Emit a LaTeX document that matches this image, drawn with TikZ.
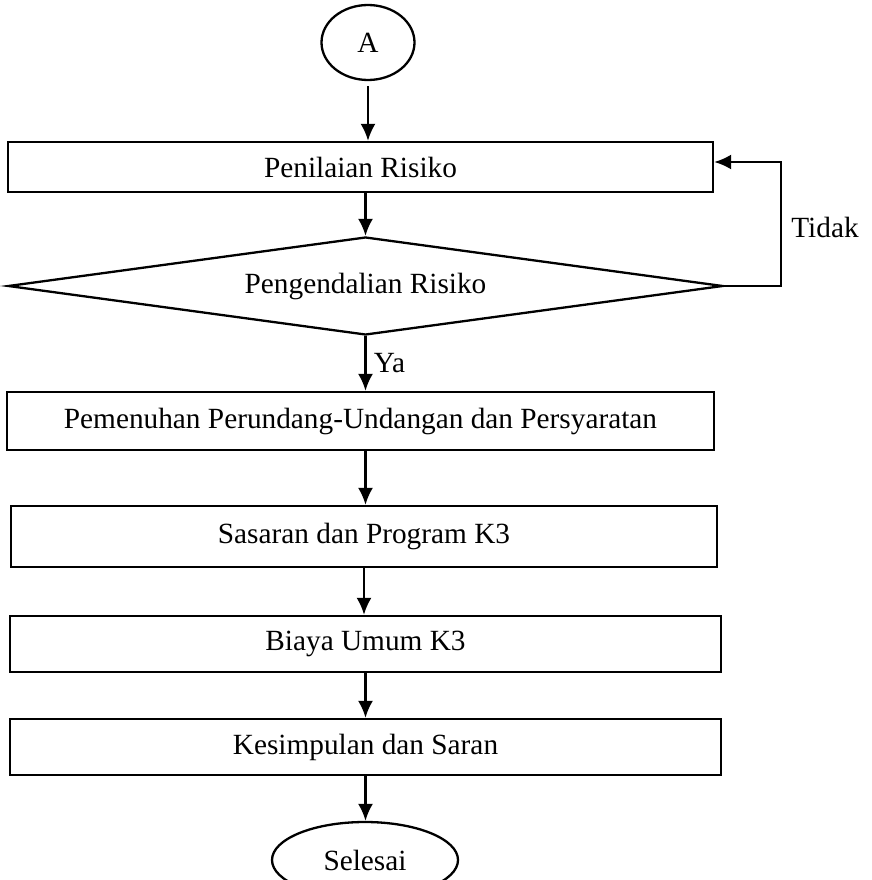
\documentclass[tikz,border=0pt]{standalone}
\usepackage{fontspec}
\setmainfont{Liberation Serif}
\usetikzlibrary{arrows.meta,shapes.geometric}

\tikzset{
  stepbox/.style={draw, rectangle, minimum width=709pt, minimum height=56pt, inner sep=0pt},
  decbox/.style={draw, diamond, aspect=7.3, minimum width=715pt, minimum height=98pt, inner sep=0pt},
  termbox/.style={draw, ellipse, inner sep=0pt}
}

\begin{document}
\begin{tikzpicture}[x=1pt, y=-1pt, >={Latex[length=17pt,width=15pt]}, line width=2.3pt,
    every node/.style={font=\fontsize{29.3}{35}\selectfont}]
        \useasboundingbox (0,0) rectangle (871,880);

        \node[termbox, minimum width=93pt, minimum height=75pt] (start) at (368,42.5) {A};
        \node[stepbox, minimum width=705pt, minimum height=50pt] (risk) at (360.5,167) {Penilaian Risiko};
        \node[decbox] (ctrl) at (365.5,286) {Pengendalian Risiko};
        \node[stepbox, minimum width=707pt, minimum height=58pt] (law) at (360.5,421) {Pemenuhan Perundang-Undangan dan Persyaratan};
        \node[stepbox, minimum width=706pt, minimum height=61pt] (goal) at (364,536.5) {Sasaran dan Program K3};
        \node[stepbox, minimum width=711pt, minimum height=56pt] (cost) at (365.5,644) {Biaya Umum K3};
        \node[stepbox, minimum width=711pt, minimum height=56pt] (concl) at (365.5,747) {Kesimpulan dan Saran};
        \node[termbox, minimum width=186pt, minimum height=76pt] (finish) at (365,860) {Selesai};

        \draw[->, shorten <=5pt] (start.south) -- (start.south |- risk.north);
        \draw[->] (risk.south -| ctrl.north) -- (ctrl.north);
        \draw[->] (ctrl.south) -- (ctrl.south |- law.north) node[midway, right=4pt] (yes) {Ya};
        \draw[->] ([xshift=5pt]law.south) -- ([xshift=5pt]law.south |- goal.north);
        \draw[->] (goal.south) -- (goal.south |- cost.north);
        \draw[->] (cost.south) -- (cost.south |- concl.north);
        \draw[->] (concl.south) -- (concl.south |- finish.north);

        \draw[->] (ctrl.east) -- ++(57,0) |- ([yshift=5pt]risk.east);
        \node (no) at (825,227) {Tidak};
\end{tikzpicture}
\end{document}
